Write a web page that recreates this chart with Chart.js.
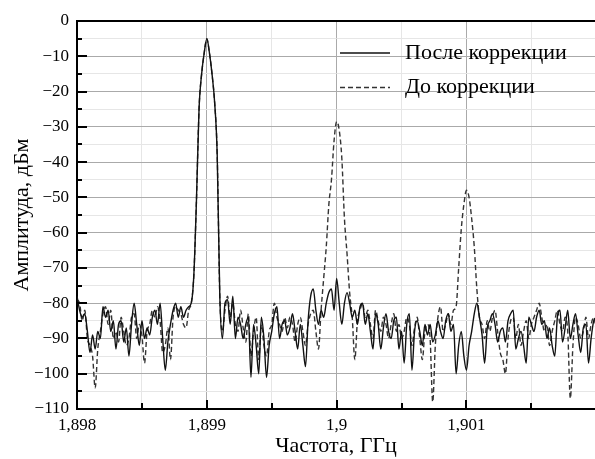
<!DOCTYPE html>
<html>
<head>
<meta charset="utf-8">
<style>
  html, body { margin: 0; padding: 0; background: #fff; }
  #wrap { width: 595px; height: 459px; }
</style>
<script src="https://cdn.jsdelivr.net/npm/chart.js@4.4.1/dist/chart.umd.min.js"></script>
</head>
<body>
<div id="wrap"><canvas id="spec" width="595" height="459"></canvas></div>
<script>
// sample grid of the spectrum, GHz
const freqStart = 1.898;
const freqStep = 0.00002;

const seriesNames = ['После коррекции', 'До коррекции'];

// after correction (solid), dBm
const afterDb = [
  -78, -82, -84, -83, -88, -94, -89, -93, -88, -90,
  -81, -84, -82, -88, -85, -93, -86, -85, -91, -87,
  -95, -86, -80, -86, -92, -85, -90, -87, -89, -84,
  -82, -86, -80, -90, -99, -91, -86, -82, -80, -84,
  -81, -84, -82, -81, -80, -72, -51, -25, -15, -9,
  -5, -9, -15, -23, -38, -78, -90, -80, -79, -86,
  -78, -90, -84, -86, -90, -86, -84, -101, -86, -92,
  -100, -84, -90, -101, -92, -88, -83, -81, -90, -86,
  -85, -89, -87, -83, -88, -93, -86, -92, -98, -85,
  -78, -76, -82, -86, -82, -84, -80, -77, -76, -82,
  -73, -80, -86, -80, -77, -80, -84, -82, -86, -81,
  -80, -86, -83, -88, -93, -83, -86, -93, -87, -83,
  -88, -90, -85, -84, -93, -88, -97, -86, -83, -99,
  -88, -85, -88, -92, -86, -89, -86, -91, -89, -85,
  -88, -90, -85, -83, -88, -86, -100, -92, -88, -95,
  -99, -92, -88, -83, -80, -84, -89, -97, -87, -85,
  -83, -86, -91, -88, -87, -91, -85, -83, -82, -93,
  -90, -88, -92, -97, -84, -86, -88, -84, -82, -86,
  -85, -90, -87, -92, -95, -84, -82, -91, -87, -82,
  -90, -86, -83, -89, -94, -87, -86, -97, -90, -85,
  -84
];

// before correction (dashed), dBm
const beforeDb = [
  -79, -80, -85, -82, -90, -92, -95, -104, -93, -88,
  -83, -81, -86, -82, -90, -88, -91, -84, -88, -92,
  -90, -84, -83, -90, -86, -89, -97, -88, -86, -82,
  -84, -81, -85, -94, -92, -87, -96, -84, -81, -82,
  -83, -86, -87, -82, -80, -72, -51, -25, -15, -9,
  -5, -9, -15, -23, -38, -78, -88, -82, -78, -84,
  -80, -86, -88, -82, -87, -91, -83, -95, -88, -84,
  -96, -86, -92, -95, -88, -86, -80, -84, -86, -88,
  -84, -87, -84, -86, -91, -86, -84, -88, -92, -86,
  -83, -82, -88, -93, -82, -73, -64, -52, -45, -34,
  -28.5, -31, -39, -56, -66, -77, -84, -96, -85, -82,
  -80, -84, -82, -86, -90, -82, -85, -88, -84, -86,
  -90, -86, -83, -88, -86, -90, -88, -84, -86, -92,
  -87, -84, -90, -96, -88, -86, -90, -108, -92, -84,
  -81, -88, -86, -83, -86, -82, -81, -70, -59, -52,
  -48, -50, -56, -64, -76, -84, -86, -90, -85, -88,
  -84, -82, -88, -94, -96, -100, -90, -85, -84, -90,
  -86, -92, -88, -85, -90, -86, -84, -82, -80, -84,
  -88, -86, -92, -88, -85, -82, -86, -88, -84, -88,
  -107, -92, -84, -86, -90, -88, -84, -90, -86, -84,
  -88
];

const xMin = 1.898, xMax = 1.90199, xStep = 0.0005;
const yMin = -110, yMax = 0, yStep = 5;

function toPoints(arr) {
  return arr.map(function (v, i) { return { x: freqStart + i * freqStep, y: v }; });
}
function isMajorX(v) { return Math.abs(v * 1000 - Math.round(v * 1000)) < 1e-6; }
function isMajorY(v) { return Math.abs(v % 10) < 1e-6; }

const serif = '"Liberation Serif", "Times New Roman", serif';

const decor = {
  id: 'decor',
  afterDraw(chart) {
    const ctx = chart.ctx;
    const a = chart.chartArea;
    const xs = chart.scales.x, ys = chart.scales.y;
    ctx.save();
    ctx.strokeStyle = '#000';
    // top frame line
    ctx.lineWidth = 2;
    ctx.beginPath();
    ctx.moveTo(a.left, a.top);
    ctx.lineTo(a.right, a.top);
    ctx.stroke();
    // inward ticks
    ys.ticks.forEach(function (t) {
      const py = Math.round(ys.getPixelForValue(t.value));
      const len = isMajorY(t.value) ? 10 : 5;
      ctx.beginPath();
      ctx.moveTo(a.left, py);
      ctx.lineTo(a.left + len, py);
      ctx.stroke();
    });
    xs.ticks.forEach(function (t) {
      const px = Math.round(xs.getPixelForValue(t.value));
      const len = isMajorX(t.value) ? 9 : 6;
      ctx.beginPath();
      ctx.moveTo(px, a.bottom);
      ctx.lineTo(px, a.bottom - len);
      ctx.stroke();
    });
    // legend
    const rows = [53, 87.5];
    chart.data.datasets.forEach(function (ds, i) {
      ctx.lineWidth = 1.4;
      ctx.strokeStyle = ds.borderColor;
      ctx.setLineDash(ds.borderDash || []);
      ctx.beginPath();
      ctx.moveTo(340, rows[i]);
      ctx.lineTo(390, rows[i]);
      ctx.stroke();
      ctx.setLineDash([]);
      ctx.fillStyle = '#000';
      ctx.font = '22px ' + serif;
      ctx.textBaseline = 'middle';
      ctx.fillText(ds.label, 405, rows[i]);
    });
    ctx.restore();
  }
};

new Chart(document.getElementById('spec'), {
  type: 'line',
  data: {
    datasets: [
      {
        label: seriesNames[0],
        data: toPoints(afterDb),
        borderColor: '#111',
        borderWidth: 1.4,
        pointRadius: 0,
        cubicInterpolationMode: 'monotone',
        fill: false
      },
      {
        label: seriesNames[1],
        data: toPoints(beforeDb),
        borderColor: '#333',
        borderWidth: 1.4,
        borderDash: [5, 3],
        pointRadius: 0,
        cubicInterpolationMode: 'monotone',
        fill: false
      }
    ]
  },
  options: {
    responsive: false,
    animation: false,
    layout: { padding: { top: 21, right: 0, bottom: 0, left: 0 } },
    plugins: { legend: { display: false }, tooltip: { enabled: false } },
    scales: {
      x: {
        type: 'linear',
        min: xMin,
        max: xMax,
        afterFit: function (s) { s.height = 50; },
        border: { display: true, color: '#000', width: 2 },
        grid: {
          drawTicks: false,
          color: function (c) { return isMajorX(c.tick.value) ? '#aaaaaa' : '#e6e6e6'; }
        },
        ticks: {
          stepSize: xStep,
          includeBounds: false,
          autoSkip: false,
          maxRotation: 0,
          padding: 6,
          color: '#000',
          font: { family: serif, size: 17 },
          callback: function (v) {
            if (!isMajorX(v)) return '';
            return String(Math.round(v * 1000) / 1000).replace('.', ',');
          }
        },
        title: {
          display: true,
          text: 'Частота, ГГц',
          color: '#000',
          font: { family: serif, size: 22 },
          padding: { top: 0, bottom: 0 }
        }
      },
      y: {
        min: yMin,
        max: yMax,
        afterFit: function (s) { s.width = 77; },
        border: { display: true, color: '#000', width: 2 },
        grid: {
          drawTicks: false,
          color: function (c) { return isMajorY(c.tick.value) ? '#aaaaaa' : '#e6e6e6'; }
        },
        ticks: {
          stepSize: yStep,
          autoSkip: false,
          padding: 8,
          color: '#000',
          font: { family: serif, size: 17 },
          callback: function (v) {
            if (!isMajorY(v)) return '';
            return String(v).replace('-', '\u2212');
          }
        },
        title: {
          display: true,
          text: 'Амплитуда, дБм',
          color: '#000',
          font: { family: serif, size: 22 },
          padding: { top: 9, bottom: 0 }
        }
      }
    }
  },
  plugins: [decor]
});
</script>
</body>
</html>
